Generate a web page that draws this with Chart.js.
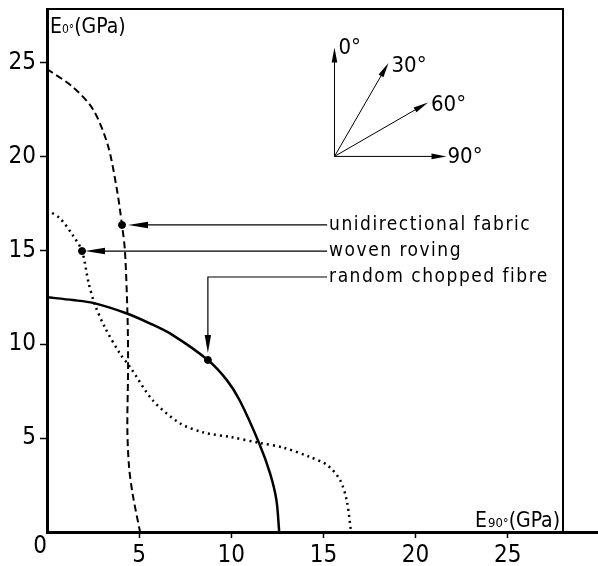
<!DOCTYPE html>
<html>
<head>
<meta charset="utf-8">
<script src="https://cdn.jsdelivr.net/npm/chart.js@4.4.0/dist/chart.umd.min.js"></script>
<style>
    html, body { margin: 0; padding: 0; background: #fff; }
</style>
</head>
<body>
<canvas id="chart" width="598" height="566"></canvas>
<script>
// unidirectional fabric (dashed curve)
const uniX = [0, 1.4, 2.5, 3.3, 3.8, 4.07, 4.23, 4.37, 4.4, 4.36, 4.45, 4.65, 5.05];
const uniY = [24.65, 23.7, 22.5, 20.6, 18.2, 16.35, 14.96, 11.45, 8.8, 5.5, 3.5, 2.0, 0];

// woven roving (dotted curve)
const wovenX = [0, 0.7, 1.4, 1.9, 2.25, 2.6, 3.14, 3.96, 4.5, 5.75, 7.2, 8.5, 10.0, 11.5, 12.8, 14.25, 15.2, 15.9, 16.26, 16.5];
const wovenY = [17.15, 16.7, 15.8, 14.96, 13.3, 12.1, 10.9, 9.5, 8.8, 7.0, 5.8, 5.3, 5.05, 4.75, 4.5, 4.0, 3.57, 2.77, 1.7, 0];

// random chopped fibre (solid curve)
const randomX = [0, 1.4, 2.5, 4.3, 5.6, 6.8, 8.73, 9.75, 10.46, 11.5, 12.1, 12.45, 12.6];
const randomY = [12.5, 12.35, 12.2, 11.65, 11.1, 10.5, 9.16, 8.1, 7.0, 4.75, 3.14, 1.7, 0];

// marked points the labels point at
const dotX = [4.07, 1.9, 8.73];
const dotY = [16.35, 14.96, 9.16];
const seriesNames = ['unidirectional fabric', 'woven roving', 'random chopped fibre'];
const labelRowY = [16.35, 14.96, 13.58];

const xTicks = [5, 10, 15, 20, 25];
const yTicks = [5, 10, 15, 20, 25];
const angles = [0, 30, 60, 90];

const NUM_FONT = "'Liberation Sans Narrow', 'DejaVu Sans Condensed', sans-serif";
const TXT_FONT = "'DejaVu Sans Condensed', 'Liberation Sans Narrow', sans-serif";

function pts(xs, ys) {
    return xs.map(function(x, i) { return {x: x, y: ys[i]}; });
}

function arrowHead(ctx, tx, ty, ux, uy, len, half) {
    // (ux, uy) is the unit direction the arrow points to
    let bx = tx - ux * len, by = ty - uy * len;
    ctx.beginPath();
    ctx.moveTo(tx, ty);
    ctx.lineTo(bx - uy * half, by + ux * half);
    ctx.lineTo(bx + uy * half, by - ux * half);
    ctx.closePath();
    ctx.fill();
}

const decorations = {
    id: 'decorations',
    afterDraw(chart) {
        const ctx = chart.ctx, a = chart.chartArea;
        const xs = chart.scales.x, ys = chart.scales.y;
        ctx.save();
        ctx.strokeStyle = '#000';
        ctx.fillStyle = '#000';

        // frame top + right, and x axis running past the frame
        ctx.lineWidth = 2;
        ctx.beginPath();
        ctx.moveTo(a.left, a.top);
        ctx.lineTo(a.right, a.top);
        ctx.lineTo(a.right, a.bottom);
        ctx.stroke();
        ctx.lineWidth = 3;
        ctx.beginPath();
        ctx.moveTo(a.right - 2, a.bottom + 0.5);
        ctx.lineTo(chart.width, a.bottom + 0.5);
        ctx.stroke();

        // origin label
        ctx.font = '24px ' + NUM_FONT;
        ctx.textAlign = 'center';
        ctx.textBaseline = 'middle';
        ctx.fillText('0', a.left - 7, a.bottom + 15);

        // axis titles
        ctx.textAlign = 'left';
        ctx.textBaseline = 'alphabetic';
        let tx = a.left + 3, ty = a.top + 24;
        ctx.font = '21px ' + NUM_FONT;
        ctx.fillText('E', tx, ty);
        tx += ctx.measureText('E').width;
        ctx.font = '12px ' + NUM_FONT;
        ctx.fillText('0°', tx, ty);
        tx += ctx.measureText('0°').width;
        ctx.font = '21px ' + NUM_FONT;
        ctx.fillText('(GPa)', tx, ty);

        tx = a.right - 88; ty = a.bottom - 5;
        ctx.fillText('E', tx, ty);
        tx += ctx.measureText('E').width + 1;
        ctx.font = '13px ' + NUM_FONT;
        ctx.fillText('90°', tx, ty);
        tx += ctx.measureText('90°').width;
        ctx.font = '21px ' + NUM_FONT;
        ctx.fillText('(GPa)', tx, ty);

        // leader lines with labels
        const labelX = xs.getPixelForValue(15.2);
        ctx.lineWidth = 1.2;
        ctx.font = '19px ' + TXT_FONT;
        ctx.letterSpacing = '1.5px';
        ctx.textBaseline = 'middle';
        seriesNames.forEach(function(name, i) {
            let ly = ys.getPixelForValue(labelRowY[i]);
            let dx = xs.getPixelForValue(dotX[i]), dy = ys.getPixelForValue(dotY[i]);
            ctx.beginPath();
            if (i < 2) {
                let tip = dx + (i == 0 ? 6 : 3);
                ctx.moveTo(labelX, ly);
                ctx.lineTo(tip + 10, ly);
                ctx.stroke();
                arrowHead(ctx, tip, ly, -1, 0, 20, 3.2);
            } else {
                let tipY = dy - 7;
                ctx.moveTo(labelX, ly);
                ctx.lineTo(dx, ly);
                ctx.lineTo(dx, tipY - 10);
                ctx.stroke();
                arrowHead(ctx, dx, tipY, 0, 1, 18, 3.2);
            }
            ctx.fillText(name, labelX + 2, ly);
        });
        ctx.letterSpacing = '0px';

        // orientation sketch
        const ox = xs.getPixelForValue(15.6), oy = ys.getPixelForValue(20.0);
        const len = [109, 108, 108, 112];
        ctx.lineWidth = 1;
        ctx.font = '22px ' + NUM_FONT;
        ctx.textAlign = 'left';
        angles.forEach(function(deg, i) {
            let r = deg * Math.PI / 180;
            let ux = Math.sin(r), uy = -Math.cos(r);
            let ex = ox + ux * len[i], ey = oy + uy * len[i];
            ctx.beginPath();
            ctx.moveTo(ox, oy);
            ctx.lineTo(ex - ux * 8, ey - uy * 8);
            ctx.stroke();
            arrowHead(ctx, ex, ey, ux, uy, 15, 2.8);
            let lx = ex + 3, lyy = ey + 3;
            if (deg == 0) { lx = ex + 4; lyy = ey + 1; }
            if (deg == 90) { lx = ex + 1; lyy = ey + 1; }
            ctx.fillText(deg + '°', lx, lyy);
        });
        ctx.restore();
    }
};

const chart = new Chart(document.getElementById('chart'), {
    type: 'scatter',
    data: {
        datasets: [{
            label: seriesNames[0],
            data: pts(uniX, uniY),
            showLine: true,
            borderColor: '#000',
            borderWidth: 2,
            borderDash: [7, 4],
            tension: 0.3,
            pointRadius: 0
        }, {
            label: seriesNames[1],
            data: pts(wovenX, wovenY),
            showLine: true,
            borderColor: '#000',
            borderWidth: 2.5,
            borderDash: [2, 4],
            tension: 0.3,
            pointRadius: 0
        }, {
            label: seriesNames[2],
            data: pts(randomX, randomY),
            showLine: true,
            borderColor: '#000',
            borderWidth: 2.5,
            tension: 0.3,
            pointRadius: 0
        }, {
            label: 'points',
            data: pts(dotX, dotY),
            showLine: false,
            pointRadius: 3.5,
            pointBackgroundColor: '#000',
            pointBorderColor: '#000'
        }]
    },
    options: {
        responsive: false,
        animation: false,
        devicePixelRatio: 1,
        layout: { padding: { top: 9, right: 35, left: 0, bottom: 0 } },
        plugins: {
            legend: { display: false },
            tooltip: { enabled: false }
        },
        scales: {
            x: {
                type: 'linear',
                min: 0,
                max: 28,
                afterBuildTicks: function(scale) {
                    scale.ticks = xTicks.map(function(v) { return {value: v}; });
                },
                afterFit: function(scale) {
                    scale.height = 34;
                    scale.paddingLeft = 0;
                    scale.paddingRight = 0;
                },
                grid: { drawOnChartArea: false, tickLength: 6, tickColor: '#000', tickWidth: 1.5 },
                border: { display: true, color: '#000', width: 3 },
                ticks: { color: '#000', padding: 3, maxRotation: 0, font: { family: NUM_FONT, size: 24 } }
            },
            y: {
                type: 'linear',
                min: 0,
                max: 27.85,
                afterBuildTicks: function(scale) {
                    scale.ticks = yTicks.map(function(v) { return {value: v}; });
                },
                afterFit: function(scale) {
                    scale.width = 47;
                    scale.paddingTop = 0;
                    scale.paddingBottom = 0;
                },
                grid: { drawOnChartArea: false, tickLength: 7, tickColor: '#000', tickWidth: 1.5 },
                border: { display: true, color: '#000', width: 3 },
                ticks: { color: '#000', padding: 4, font: { family: NUM_FONT, size: 24 } }
            }
        }
    },
    plugins: [decorations]
});
</script>
</body>
</html>
